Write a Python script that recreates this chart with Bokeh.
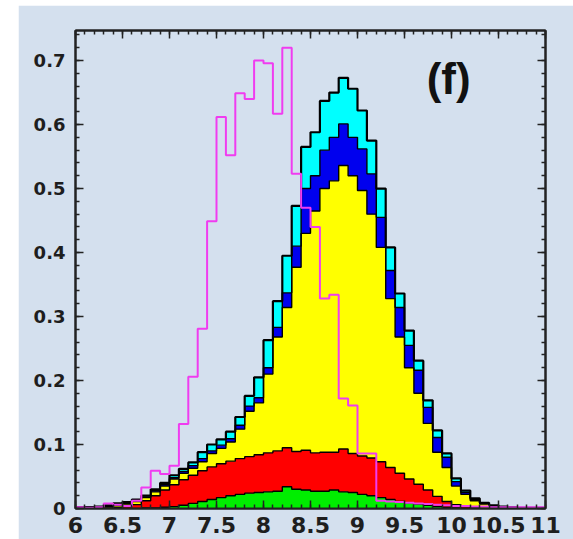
import numpy as np
from bokeh.plotting import figure
from bokeh.models import Range1d, FixedTicker, LinearAxis, Label, Spacer, CustomLabelingPolicy
from bokeh.layouts import column, row
from bokeh.embed import file_html
from bokeh.resources import INLINE

# 50 bins of width 0.1 from 6 to 11
x_low, x_high, n_bins = 6.0, 11.0, 50

# stacked components (bottom to top), per bin
green = [0, 0, 0, 0, 0, 0, 0, 0.001, 0.001, 0.002,
         0.003, 0.005, 0.008, 0.011, 0.014, 0.017, 0.020, 0.022, 0.024, 0.025,
         0.026, 0.027, 0.034, 0.030, 0.029, 0.027, 0.027, 0.029, 0.026, 0.025,
         0.022, 0.020, 0.017, 0.014, 0.011, 0.009, 0.007, 0.005, 0.003, 0.002,
         0.001, 0, 0, 0, 0, 0, 0, 0, 0, 0]
red = [0, 0, 0.001, 0.001, 0.002, 0.003, 0.006, 0.011, 0.019, 0.027,
       0.034, 0.040, 0.044, 0.048, 0.051, 0.053, 0.054, 0.056, 0.057, 0.059,
       0.061, 0.063, 0.061, 0.059, 0.062, 0.060, 0.061, 0.059, 0.067, 0.061,
       0.060, 0.059, 0.056, 0.050, 0.044, 0.037, 0.031, 0.024, 0.016, 0.009,
       0.005, 0.003, 0.001, 0, 0, 0, 0, 0, 0, 0]
yellow = [0.001, 0.001, 0.001, 0.002, 0.003, 0.004, 0.005, 0.005, 0.006, 0.006,
          0.009, 0.010, 0.011, 0.014, 0.021, 0.024, 0.030, 0.046, 0.071, 0.081,
          0.123, 0.178, 0.219, 0.288, 0.339, 0.378, 0.412, 0.424, 0.443, 0.434,
          0.415, 0.381, 0.335, 0.264, 0.213, 0.174, 0.142, 0.104, 0.069, 0.053,
          0.029, 0.019, 0.011, 0.007, 0.004, 0.002, 0.001, 0.001, 0, 0]
blue = [0, 0.001, 0, 0.001, 0.001, 0.001, 0.001, 0.001, 0.002, 0.002,
        0.002, 0.003, 0.004, 0.005, 0.004, 0.005, 0.005, 0.006, 0.008, 0.008,
        0.010, 0.015, 0.023, 0.033, 0.070, 0.055, 0.060, 0.068, 0.065, 0.060,
        0.065, 0.063, 0.047, 0.044, 0.046, 0.035, 0.036, 0.025, 0.023, 0.016,
        0.007, 0.003, 0.002, 0.001, 0, 0, 0, 0, 0.001, 0]
cyan = [0.001, 0, 0.001, 0.001, 0.002, 0.002, 0.002, 0.002, 0.002, 0.003,
        0.004, 0.004, 0.005, 0.010, 0.010, 0.009, 0.011, 0.013, 0.016, 0.032,
        0.043, 0.041, 0.058, 0.063, 0.065, 0.068, 0.077, 0.070, 0.072, 0.076,
        0.060, 0.052, 0.045, 0.036, 0.022, 0.023, 0.015, 0.011, 0.011, 0.006,
        0.005, 0.003, 0.002, 0.001, 0.001, 0.001, 0.001, 0, 0, 0.001]
# overlaid (non-stacked) histogram
magenta = [0.002, 0.001, 0.002, 0.008, 0.006, 0.004, 0.012, 0.033, 0.059, 0.054,
           0.067, 0.132, 0.206, 0.281, 0.449, 0.612, 0.552, 0.649, 0.640, 0.700,
           0.696, 0.617, 0.720, 0.523, 0.470, 0.440, 0.328, 0.334, 0.172, 0.161,
           0.086, 0.086, 0.012, 0.011, 0.010, 0.009, 0.008, 0.007, 0.006, 0.005,
           0.004, 0.004, 0.003, 0.003, 0.002, 0.002, 0.002, 0.002, 0.002, 0.002]

x_ticks = [6, 6.5, 7, 7.5, 8, 8.5, 9, 9.5, 10, 10.5, 11]
x_tick_labels = ["6", "6.5", "7", "7.5", "8", "8.5", "9", "9.5", "10", "10.5", "11"]
y_ticks = [0, 0.1, 0.2, 0.3, 0.4, 0.5, 0.6, 0.7]
y_tick_labels = ["0", "0.1", "0.2", "0.3", "0.4", "0.5", "0.6", "0.7"]
panel_label = "(f)"

BG = "#d4e0ee"
FRAME = "#222222"

edges = np.linspace(x_low, x_high, n_bins + 1)
x_minor = [float(v) for v in np.round(np.arange(6.0, 11.0001, 0.1), 2)]
y_minor = [float(v) for v in np.round(np.arange(0.0, 0.7401, 0.02), 3)]

p = figure(width=555, height=534, output_backend="svg", toolbar_location=None,
           x_range=Range1d(6, 11), y_range=Range1d(0, 0.747),
           min_border_left=57, min_border_right=28, min_border_top=25, min_border_bottom=31)
p.background_fill_color = BG
p.border_fill_color = BG
p.outline_line_color = FRAME
p.outline_line_width = 2
p.xgrid.grid_line_color = None
p.ygrid.grid_line_color = None

layers = [(green, "#00ee00"), (red, "#ff0000"), (yellow, "#ffff00"),
          (blue, "#0000ee"), (cyan, "#00ffff")]
base = np.zeros(n_bins)
tops = []
for vals, col in layers:
    top = base + np.array(vals, dtype=float)
    p.varea_step(x=edges, y1=np.append(base, base[-1]), y2=np.append(top, top[-1]),
                 step_mode="after", fill_color=col)
    tops.append(top)
    base = top

for i, top in enumerate(tops):
    p.step(x=edges, y=np.append(top, top[-1]), mode="after",
           line_color="black", line_width=2.2 if i == len(tops) - 1 else 1.4)

mag = np.array(magenta, dtype=float)
p.step(x=edges, y=np.append(mag, mag[-1]), mode="after", line_color="#f03cf0", line_width=2)

no_labels = CustomLabelingPolicy(code="return new Set()")

def style_axis(ax, ticks, minor, labels=None, size="18px"):
    ax.ticker = FixedTicker(ticks=ticks, minor_ticks=minor)
    ax.major_tick_in = 8
    ax.major_tick_out = 0
    ax.minor_tick_in = 4
    ax.minor_tick_out = 0
    ax.axis_line_color = FRAME
    ax.axis_line_width = 2
    ax.major_tick_line_color = FRAME
    ax.minor_tick_line_color = FRAME
    ax.major_tick_line_width = 1.5
    ax.minor_tick_line_width = 1.5
    if labels is not None:
        ax.major_label_overrides = {t: l for t, l in zip(ticks, labels)}
        ax.major_label_text_font = "DejaVu Sans"
        ax.major_label_text_font_style = "bold"
        ax.major_label_text_font_size = size
        ax.major_label_text_color = "#1e1e1e"
    else:
        ax.major_label_policy = no_labels
        ax.major_label_standoff = 0

style_axis(p.xaxis[0], x_ticks, x_minor, x_tick_labels, "22px")
p.xaxis[0].major_label_standoff = 8
style_axis(p.yaxis[0], y_ticks, y_minor, y_tick_labels, "18px")
p.yaxis[0].major_label_standoff = 10

top_ax = LinearAxis()
style_axis(top_ax, x_ticks, x_minor)
p.add_layout(top_ax, "above")
right_ax = LinearAxis()
style_axis(right_ax, y_ticks, y_minor)
p.add_layout(right_ax, "right")

p.add_layout(Label(x=9.97, y=0.672, text=panel_label, text_font="Liberation Sans",
                   text_font_style="bold", text_font_size="44px", text_color="#111111",
                   text_align="center", text_baseline="middle"))

layout = column(Spacer(height=5), row(Spacer(width=18), p))
open("out.html", "w").write(file_html(layout, INLINE))
